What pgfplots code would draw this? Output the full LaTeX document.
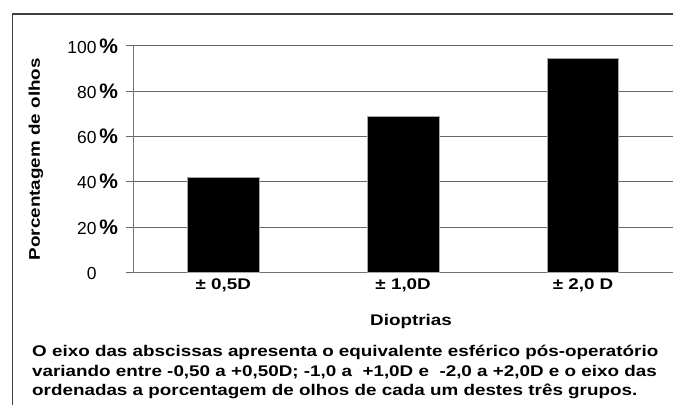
\documentclass[border=0pt]{standalone}
\usepackage{fontspec}
\setmainfont{Liberation Sans}
\usepackage{pgfplots}
\pgfplotsset{compat=1.18}
\newcommand{\pc}{{\fontsize{21}{23}\selectfont\bfseries\%}}
\newcommand{\bt}[1]{\scalebox{1.22}[1]{#1}}
\begin{document}
\begin{tikzpicture}[x=1bp,y=1bp]
\path[use as bounding box] (0,0) rectangle (673,405);
\draw[line width=1.3bp, black!75] (12.3,0) -- (12.3,391) -- (673,391);
\begin{axis}[
  at={(133.3bp,132.7bp)}, anchor=south west,
  scale only axis, width=539.7bp, height=226.3bp,
  xmin=-0.5, xmax=2.5, ymin=0, ymax=100,
  ybar, bar width=71.6bp,
  axis x line*=bottom, axis y line*=left,
  axis line style={black!55, line width=1bp},
  ymajorgrids, grid style={black!60, line width=1bp},
  tick align=outside, major tick length=7.6bp,
  ytick style={black!60, line width=1bp},
  xtick style={draw=none},
  ytick={0,20,40,60,80,100},
  yticklabels={0\phantom{\,\pc}, 20\,\pc, 40\,\pc, 60\,\pc, 80\,\pc, 100\,\pc},
  yticklabel style={font=\fontsize{17.5}{19}\selectfont, inner sep=1bp, xshift=-6.5bp},
  xtick={0,1,2},
  xticklabels={{\bt{± 0,5D}},{\bt{± 1,0D}},{\bt{± 2,0 D}}},
  xticklabel style={font=\bfseries\fontsize{15.5}{18}\selectfont, anchor=base, yshift=-9.5bp},
  xlabel={\bt{Dioptrias}},
  xlabel style={at={(axis description cs:0.5146,-0.236)}, anchor=base, font=\bfseries\fontsize{15.5}{18}\selectfont},
  ylabel={\bt{Porcentagem de olhos}},
  ylabel style={at={(axis description cs:-0.1803,0.5)}, anchor=center, font=\bfseries\fontsize{15.5}{18}\selectfont},
]
\addplot[fill=black, draw=black!35, line width=0.8bp] coordinates {(0,42.1) (1,68.8) (2,94.6)};
\end{axis}
\begin{scope}[every node/.style={anchor=base west, inner sep=0pt, font=\bfseries\fontsize{15.5}{18}\selectfont}]
\node at (32,48.8) {\bt{O eixo das abscissas apresenta o equivalente esférico pós-operatório}};
\node at (32,28.8) {\bt{variando entre -0,50 a +0,50D; -1,0 a \ +1,0D e \ -2,0 a +2,0D e o eixo das}};
\node at (32,9.2) {\bt{ordenadas a porcentagem de olhos de cada um destes três grupos.}};
\end{scope}
\end{tikzpicture}
\end{document}
